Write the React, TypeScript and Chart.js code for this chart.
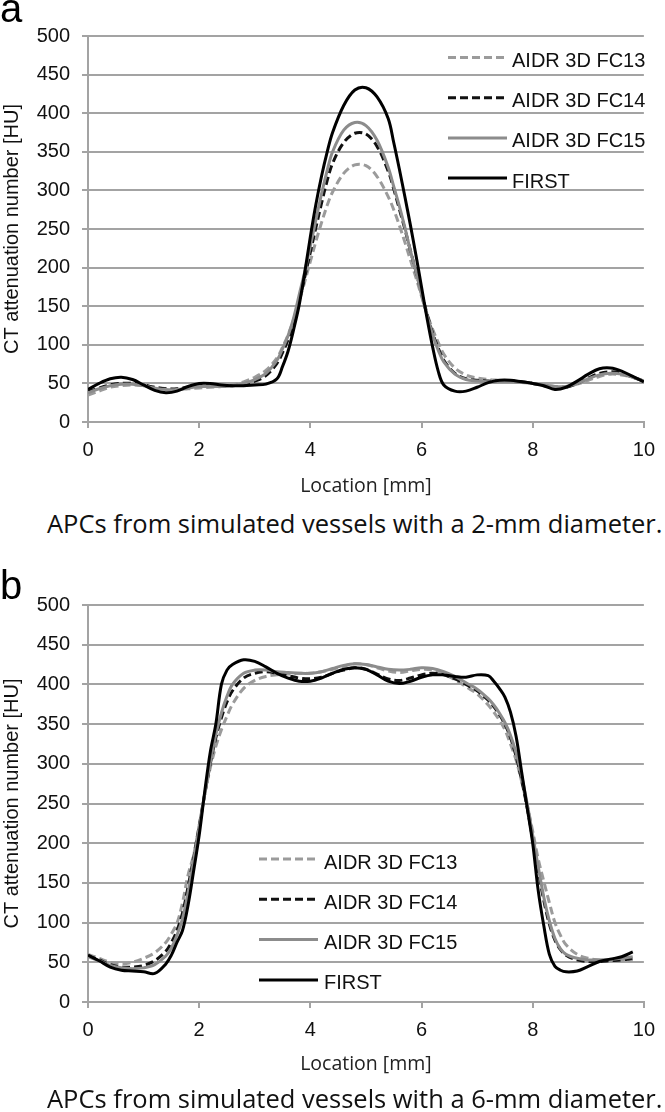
import React, { useEffect, useRef } from "react";
import { Chart, registerables } from "chart.js";

Chart.register(...registerables);

// ---------- data ----------
const SERIES_NAMES = ["AIDR 3D FC13", "AIDR 3D FC14", "AIDR 3D FC15", "FIRST"];
const X_TICKS = [0, 2, 4, 6, 8, 10];
const Y_MIN = 0;
const Y_MAX = 500;
const Y_STEP = 50;
const X_TITLE = "Location [mm]";
const Y_TITLE = "CT attenuation number [HU]";
const CAPTION_A = "APCs from simulated vessels with a 2-mm diameter.";
const CAPTION_B = "APCs from simulated vessels with a 6-mm diameter.";

// Panel a (2-mm vessel)
const LOC_A = [0, 0.2, 0.4, 0.6, 0.8, 1.0, 1.2, 1.4, 1.6, 1.8, 2.0, 2.2, 2.4, 2.6, 2.8, 3.0, 3.2, 3.4,
  3.5, 3.6, 3.7, 3.8, 3.9, 4.0, 4.1, 4.2, 4.3, 4.4, 4.6, 4.8, 5.0, 5.2, 5.4,
  5.5, 5.6, 5.7, 5.8, 5.9, 6.0, 6.1, 6.2, 6.3, 6.4, 6.6, 6.8, 7.0, 7.2, 7.4, 7.6, 7.8, 8.0,
  8.2, 8.4, 8.6, 8.8, 9.0, 9.2, 9.4, 9.6, 9.8, 10.0];
const A_FC13 = [35, 40, 45, 47, 48, 47, 45, 43, 42, 43, 44, 45, 46, 48, 52, 58, 67, 83,
  97, 113, 133, 157, 182, 208, 234, 258, 280, 298, 322, 333, 332, 318, 292,
  275, 255, 233, 210, 187, 163, 140, 120, 103, 88, 70, 61, 57, 55, 54, 53, 52, 50,
  48, 46, 46, 49, 54, 59, 62, 61, 58, 53];
const A_FC14 = [39, 44, 48, 50, 50, 48, 45, 43, 43, 45, 47, 47, 47, 47, 49, 53, 60, 76,
  90, 107, 130, 158, 188, 220, 252, 283, 312, 335, 362, 374, 373, 357, 325,
  302, 276, 250, 222, 195, 167, 140, 115, 96, 80, 63, 56, 54, 53, 53, 53, 52, 50,
  47, 44, 45, 50, 57, 63, 65, 63, 58, 53];
const A_FC15 = [38, 43, 47, 49, 49, 47, 44, 42, 42, 44, 46, 46, 46, 47, 50, 55, 63, 80,
  95, 112, 135, 165, 195, 228, 262, 295, 325, 350, 378, 388, 384, 365, 330,
  305, 280, 252, 222, 195, 165, 138, 113, 93, 78, 62, 55, 53, 52, 52, 52, 51, 50,
  48, 46, 46, 50, 56, 61, 63, 62, 58, 53];
const A_FIRST = [42, 50, 56, 58, 55, 48, 41, 38, 40, 46, 50, 50, 48, 47, 47, 48, 49, 56,
  72, 92, 120, 152, 194, 240, 282, 318, 349, 375, 410, 430, 433, 421, 393,
  362, 328, 292, 255, 216, 175, 134, 97, 66, 48, 40, 40, 45, 51, 54, 54, 52, 50,
  47, 42, 45, 53, 62, 69, 70, 66, 59, 52];

// Panel b (6-mm vessel)
const LOC_B = [0, 0.2, 0.4, 0.6, 0.8, 1.0, 1.2, 1.4,
  1.5, 1.6, 1.7, 1.8, 1.9, 2.0, 2.1, 2.2, 2.3, 2.4, 2.5, 2.6,
  2.8, 3.0, 3.2, 3.4, 3.6, 3.8, 4.0, 4.2, 4.4, 4.6, 4.8, 5.0, 5.2, 5.4, 5.6, 5.8, 6.0, 6.2, 6.4, 6.6, 6.8, 7.0, 7.2,
  7.3, 7.4, 7.5, 7.6, 7.7, 7.8, 7.9, 8.0, 8.1, 8.2, 8.3, 8.4, 8.5, 8.6,
  8.8, 9.0, 9.2, 9.4, 9.6, 9.8];
const B_FC13 = [60, 55, 50, 48, 50, 55, 62, 75,
  86, 99, 125, 160, 185, 222, 262, 295, 322, 343, 360, 375,
  395, 405, 410, 412, 413, 414, 414, 416, 419, 423, 426, 425, 421, 417, 415, 417, 419, 418, 413, 406, 397, 388, 374,
  365, 355, 343, 325, 305, 278, 248, 215, 180, 152, 125, 100, 84, 72,
  60, 55, 53, 52, 52, 53];
const B_FC14 = [58, 53, 47, 44, 44, 46, 52, 64,
  75, 90, 112, 145, 182, 222, 262, 300, 333, 358, 378, 392,
  408, 414, 416, 414, 411, 408, 407, 409, 414, 418, 421, 419, 413, 407, 405, 408, 412, 414, 412, 407, 400, 392, 380,
  372, 362, 350, 333, 310, 280, 245, 205, 165, 128, 98, 78, 66, 59,
  53, 51, 51, 52, 53, 55];
const B_FC15 = [57, 52, 46, 43, 42, 43, 47, 58,
  68, 84, 105, 138, 178, 220, 262, 302, 337, 364, 385, 400,
  414, 418, 418, 416, 415, 414, 414, 416, 420, 424, 426, 425, 422, 419, 418, 419, 421, 420, 416, 410, 402, 394, 382,
  374, 364, 352, 336, 314, 285, 250, 210, 170, 132, 102, 80, 67, 60,
  55, 53, 53, 54, 55, 57];
const B_FIRST = [59, 52, 44, 40, 39, 38, 36, 48,
  59, 75, 90, 122, 165, 210, 265, 315, 350, 400, 418, 425,
  431, 429, 422, 414, 408, 404, 404, 408, 414, 419, 421, 419, 412, 404, 401, 404, 409, 412, 412, 410, 409, 412, 411,
  404, 395, 384, 365, 335, 290, 245, 200, 140, 96, 60, 45, 40, 38,
  39, 45, 51, 54, 57, 63];

// ---------- styles ----------
const SERIES_STYLE = [
  { color: "#9b9b9b", dash: [8, 4], width: 3, order: 3 },
  { color: "#111111", dash: [8, 4], width: 3, order: 2 },
  { color: "#8c8c8c", dash: [], width: 3, order: 1 },
  { color: "#000000", dash: [], width: 3, order: 0 },
];
const TICK_FONT = "'Liberation Sans', Arial, Helvetica, sans-serif";
const TEXT_FONT = "'Open Sans', 'Noto Sans', sans-serif";
const GRID_COLOR = "#a3a3a3";

const insideLegend = {
  id: "insideLegend",
  afterDatasetsDraw(chart: any, _args: any, opts: any) {
    const ctx = chart.ctx;
    chart.data.datasets.forEach((ds: any, i: number) => {
      const y = opts.y0 + i * opts.step;
      ctx.save();
      ctx.strokeStyle = ds.borderColor;
      ctx.lineWidth = ds.borderWidth;
      ctx.setLineDash(ds.borderDash || []);
      ctx.beginPath();
      ctx.moveTo(opts.x0, y);
      ctx.lineTo(opts.x1, y);
      ctx.stroke();
      ctx.setLineDash([]);
      ctx.fillStyle = "#111";
      ctx.font = `20px ${TICK_FONT}`;
      ctx.textBaseline = "middle";
      ctx.textAlign = "left";
      ctx.fillText(ds.label, opts.textX, y + 4);
      ctx.restore();
    });
  },
};

function buildConfig(loc: number[], series: number[][], padRight: number, legend: any, xTitlePadBottom: number) {
  return {
    type: "line",
    data: {
      datasets: series.map((vals, i) => ({
        label: SERIES_NAMES[i],
        data: loc.map((x, j) => ({ x, y: vals[j] })),
        borderColor: SERIES_STYLE[i].color,
        borderDash: SERIES_STYLE[i].dash,
        borderWidth: SERIES_STYLE[i].width,
        order: SERIES_STYLE[i].order,
        pointRadius: 0,
        fill: false,
        tension: 0.35,
      })),
    },
    options: {
      responsive: false,
      maintainAspectRatio: false,
      animation: false,
      layout: { padding: { top: 36, right: padRight, left: 0, bottom: 0 } },
      plugins: {
        legend: { display: false },
        tooltip: { enabled: false },
        insideLegend: legend,
      },
      scales: {
        x: {
          type: "linear",
          min: X_TICKS[0],
          max: X_TICKS[X_TICKS.length - 1],
          afterBuildTicks: (s: any) => {
            s.ticks = X_TICKS.map((v) => ({ value: v }));
          },
          afterFit: (s: any) => {
            s.height = 80;
          },
          ticks: { padding: 10, color: "#111", font: { family: TICK_FONT, size: 20 }, maxRotation: 0, autoSkip: false },
          grid: { display: true, drawOnChartArea: false, drawTicks: true, tickLength: 6, color: GRID_COLOR, lineWidth: 2 },
          border: { display: true, color: GRID_COLOR, width: 2 },
          title: {
            display: true,
            text: X_TITLE,
            color: "#222",
            font: { family: TEXT_FONT, size: 19.5 },
            padding: { top: 4, bottom: xTitlePadBottom },
          },
        },
        y: {
          min: Y_MIN,
          max: Y_MAX,
          afterFit: (s: any) => {
            s.width = 88;
          },
          ticks: { stepSize: Y_STEP, padding: 12, color: "#111", font: { family: TICK_FONT, size: 20 } },
          grid: { display: true, drawTicks: true, tickLength: 6, color: GRID_COLOR, lineWidth: 2 },
          border: { display: true, color: GRID_COLOR, width: 2 },
          title: {
            display: true,
            text: Y_TITLE,
            color: "#111",
            font: { family: TICK_FONT, size: 20 },
            padding: { top: 0, bottom: 0 },
          },
        },
      },
    },
    plugins: [insideLegend],
  };
}

function Panel(props: { top: number; height: number; cfg: any }) {
  const ref = useRef<HTMLCanvasElement | null>(null);
  useEffect(() => {
    if (!ref.current) return;
    const chart = new Chart(ref.current, props.cfg);
    return () => chart.destroy();
  }, []);
  return (
    <canvas
      ref={ref}
      width={665}
      height={props.height}
      style={{ position: "absolute", left: 0, top: props.top, width: 665, height: props.height }}
    />
  );
}

const labelStyle: React.CSSProperties = {
  position: "absolute",
  left: 0,
  fontFamily: TICK_FONT,
  fontSize: 40,
  lineHeight: 1,
  color: "#000",
};
const captionStyle: React.CSSProperties = {
  position: "absolute",
  left: 47,
  fontFamily: TEXT_FONT,
  fontSize: 25.5,
  lineHeight: 1,
  color: "#111",
  whiteSpace: "nowrap",
};

export default function App() {
  const cfgA = buildConfig(LOC_A, [A_FC13, A_FC14, A_FC15, A_FIRST], 13,
    { x0: 448, x1: 507, textX: 512, y0: 57.5, step: 40.2 }, 4);
  const cfgB = buildConfig(LOC_B, [B_FC13, B_FC14, B_FC15, B_FIRST], 16,
    { x0: 259, x1: 318, textX: 324, y0: 290, step: 40.3 }, 6);
  return (
    <div style={{ position: "absolute", left: 0, top: 0, width: 665, height: 1112, background: "#fff", overflow: "hidden" }}>
      <Panel top={0} height={502} cfg={cfgA} />
      <Panel top={569} height={513} cfg={cfgB} />
      <div style={{ ...labelStyle, top: -12 }}>a</div>
      <div style={{ ...labelStyle, top: 565 }}>b</div>
      <div style={{ ...captionStyle, top: 510.5 }}>{CAPTION_A}</div>
      <div style={{ ...captionStyle, top: 1085.5 }}>{CAPTION_B}</div>
    </div>
  );
}
